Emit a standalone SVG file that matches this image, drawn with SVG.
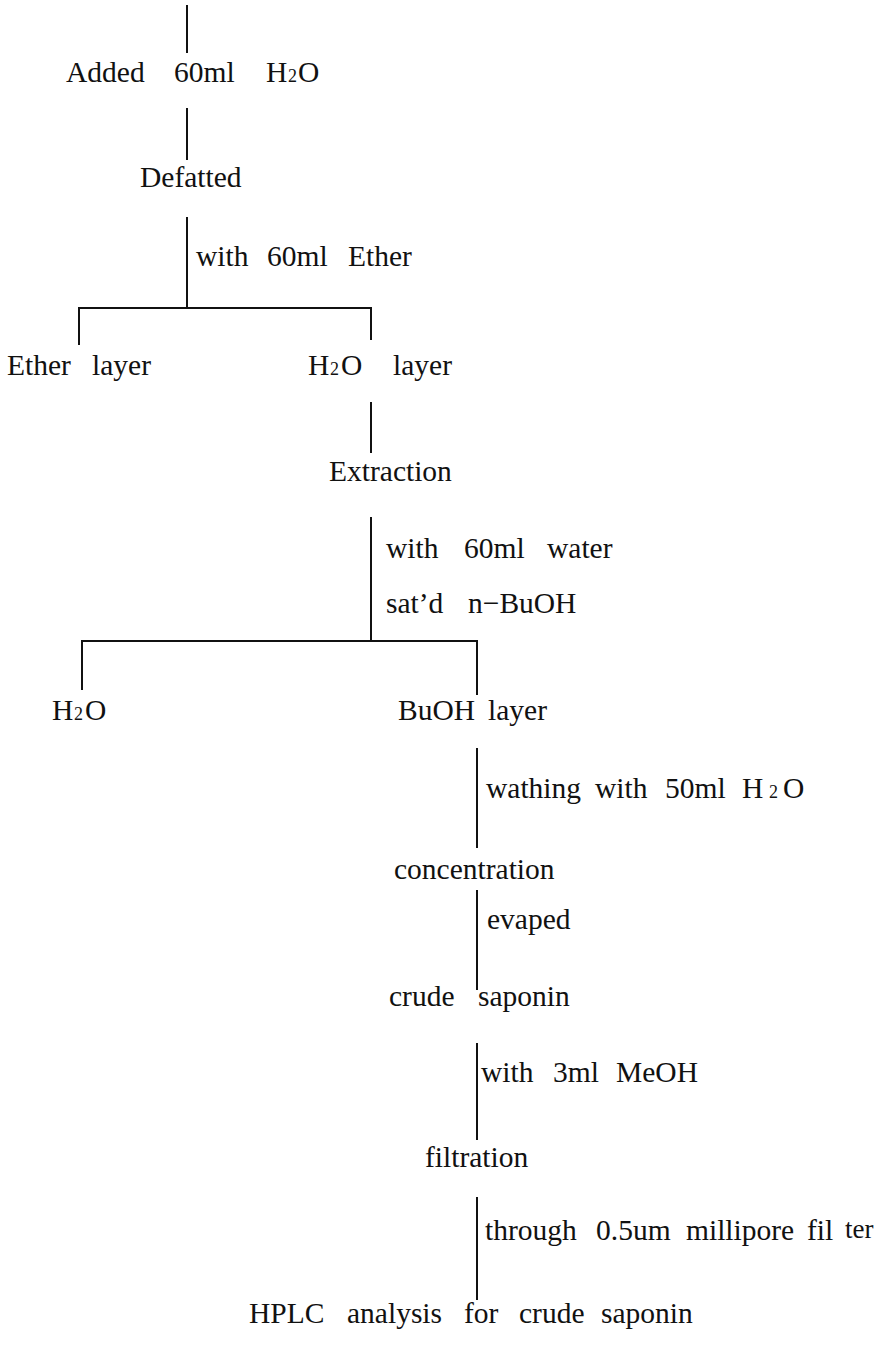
<svg xmlns="http://www.w3.org/2000/svg" width="882" height="1363" viewBox="0 0 882 1363">
<style>
text{font-family:"Liberation Serif","Times New Roman",serif;font-size:29.5px;fill:#111}
.sub{font-size:18px}
.sm{font-size:27px}
.ln{stroke:#111;stroke-width:2;fill:none}
</style>
<rect width="882" height="1363" fill="#fff"/>
<g id="connectors">
<line class="ln" x1="187" y1="5" x2="187" y2="53"/>
<line class="ln" x1="187" y1="108" x2="187" y2="160"/>
<line class="ln" x1="187" y1="217" x2="187" y2="308"/>
<polyline class="ln" points="79,345 79,308 371,308 371,340"/>
<line class="ln" x1="371" y1="402" x2="371" y2="453"/>
<line class="ln" x1="371" y1="517" x2="371" y2="641"/>
<polyline class="ln" points="82,690 82,641 477,641 477,695"/>
<line class="ln" x1="477" y1="748" x2="477" y2="848"/>
<line class="ln" x1="477" y1="890" x2="477" y2="990"/>
<line class="ln" x1="477" y1="1043" x2="477" y2="1140"/>
<line class="ln" x1="477" y1="1197" x2="477" y2="1300"/>
</g>
<g id="n-added">
<text y="82"><tspan x="66">Added</tspan> <tspan x="174">60ml</tspan> <tspan x="266">H</tspan><tspan x="288" class="sub">2</tspan><tspan x="298">O</tspan></text>
</g>
<g id="n-defatted">
<text y="187" x="140">Defatted</text>
</g>
<g id="l-ether">
<text y="266"><tspan x="196">with</tspan> <tspan x="267">60ml</tspan> <tspan x="348">Ether</tspan></text>
</g>
<g id="n-etherlayer">
<text y="375"><tspan x="7">Ether</tspan> <tspan x="92">layer</tspan></text>
</g>
<g id="n-h2olayer">
<text y="375"><tspan x="308">H</tspan><tspan x="330" class="sub">2</tspan><tspan x="341">O</tspan> <tspan x="393">layer</tspan></text>
</g>
<g id="n-extraction">
<text y="481" x="329">Extraction</text>
</g>
<g id="l-buoh">
<text y="558"><tspan x="386">with</tspan> <tspan x="464">60ml</tspan> <tspan x="547">water</tspan></text>
<text y="613"><tspan x="386">sat’d</tspan> <tspan x="468">n−BuOH</tspan></text>
</g>
<g id="n-h2o">
<text y="720"><tspan x="52">H</tspan><tspan x="74" class="sub">2</tspan><tspan x="85">O</tspan></text>
</g>
<g id="n-buohlayer">
<text y="720"><tspan x="398">BuOH</tspan> <tspan x="488">layer</tspan></text>
</g>
<g id="l-wathing">
<text y="798"><tspan x="486">wathing</tspan> <tspan x="595">with</tspan> <tspan x="665">50ml</tspan> <tspan x="742">H</tspan><tspan x="769" class="sub">2</tspan><tspan x="783">O</tspan></text>
</g>
<g id="n-concentration">
<text y="879" x="394">concentration</text>
</g>
<g id="l-evaped">
<text y="929" x="487">evaped</text>
</g>
<g id="n-crude">
<text y="1006"><tspan x="389">crude</tspan> <tspan x="478">saponin</tspan></text>
</g>
<g id="l-meoh">
<text y="1082"><tspan x="481">with</tspan> <tspan x="553">3ml</tspan> <tspan x="616">MeOH</tspan></text>
</g>
<g id="n-filtration">
<text y="1167" x="425">filtration</text>
</g>
<g id="l-through">
<text y="1240"><tspan x="485">through</tspan> <tspan x="596">0.5um</tspan> <tspan x="686">millipore</tspan> <tspan x="807">fil</tspan><tspan x="845" dy="-2" class="sm">ter</tspan></text>
</g>
<g id="n-hplc">
<text y="1323"><tspan x="249">HPLC</tspan> <tspan x="347">analysis</tspan> <tspan x="464">for</tspan> <tspan x="519">crude</tspan> <tspan x="601">saponin</tspan></text>
</g>
</svg>
